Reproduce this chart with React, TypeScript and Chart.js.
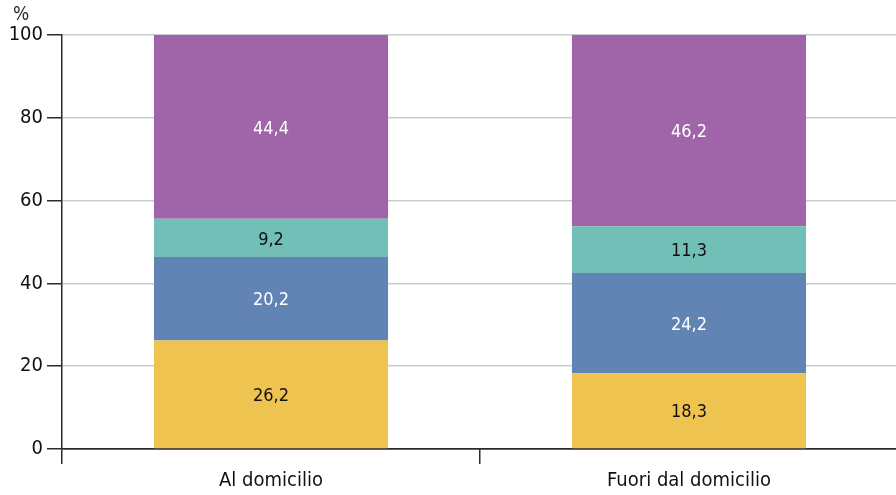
import React, { useEffect, useRef } from "react";
import { Chart, registerables } from "chart.js";

Chart.register(...registerables);

const categories = ["Al domicilio", "Fuori dal domicilio"];
const seriesYellow = [26.2, 18.3];
const seriesBlue = [20.2, 24.2];
const seriesTeal = [9.2, 11.3];
const seriesPurple = [44.4, 46.2];
const yTicks = [0, 20, 40, 60, 80, 100];

const FONT = "'Liberation Sans Narrow', 'DejaVu Sans Condensed', 'Roboto Condensed', 'Arial Narrow', sans-serif";
const DARK = "#2b2b2b";
const GRID = "#c9cbcf";

const labelPlugin = {
  id: "segLabels",
  afterDatasetsDraw(chart: any) {
    const ctx = chart.ctx;
    ctx.save();
    ctx.font = `18px ${FONT}`;
    ctx.textAlign = "center";
    ctx.textBaseline = "middle";
    chart.data.datasets.forEach((ds: any, di: number) => {
      const meta = chart.getDatasetMeta(di);
      meta.data.forEach((bar: any, i: number) => {
        const v = ds.data[i];
        const yc = (bar.y + bar.base) / 2 + 2;
        ctx.fillStyle = ds.labelColor;
        ctx.fillText(v.toFixed(1).replace(".", ","), bar.x, yc);
      });
    });
    const ca = chart.chartArea;
    ctx.fillStyle = DARK;
    ctx.font = `19px ${FONT}`;
    ctx.fillText("%", ca.left - 41, ca.top - 20);
    ctx.restore();
  },
};

export default function App() {
  const ref = useRef<HTMLCanvasElement>(null);
  useEffect(() => {
    document.body.style.margin = "0";
    const chart = new Chart(ref.current!, {
      type: "bar",
      data: {
        labels: categories,
        datasets: [
          { data: seriesYellow, backgroundColor: "#EFC34F", labelColor: "#111" } as any,
          { data: seriesBlue, backgroundColor: "#6184B4", labelColor: "#ffffff" } as any,
          { data: seriesTeal, backgroundColor: "#72BFB8", labelColor: "#111" } as any,
          { data: seriesPurple, backgroundColor: "#A064A8", labelColor: "#ffffff" } as any,
        ],
      },
      options: {
        responsive: false,
        animation: false,
        devicePixelRatio: 1,
        layout: { padding: { top: 35, left: 0, right: 2, bottom: 0 } },
        datasets: { bar: { barPercentage: 0.56, categoryPercentage: 1 } },
        plugins: { legend: { display: false }, tooltip: { enabled: false } },
        scales: {
          x: {
            stacked: true,
            afterFit: (s: any) => { s.height = 46; },
            grid: {
              offset: true,
              drawOnChartArea: false,
              drawTicks: true,
              tickLength: 15,
              color: DARK,
              lineWidth: 1.5,
            },
            border: { display: true, color: DARK, width: 1.5 },
            ticks: { color: "#111", font: { family: FONT, size: 20 }, padding: 5 },
          },
          y: {
            stacked: true,
            min: 0,
            max: 100,
            afterFit: (s: any) => { s.width = 62; },
            afterBuildTicks: (s: any) => { s.ticks = yTicks.map((v) => ({ value: v })); },
            grid: {
              color: (c: any) => (c.tick && c.tick.value === 0 ? DARK : GRID),
              lineWidth: 1.5,
              tickColor: DARK,
              tickLength: 15,
              drawTicks: true,
            },
            border: { display: true, color: DARK, width: 1.5 },
            ticks: { color: "#111", font: { family: FONT, size: 20 }, padding: 4 },
          },
        },
      },
      plugins: [labelPlugin],
    } as any);
    return () => chart.destroy();
  }, []);
  return (
    <div style={{ position: "fixed", left: 0, top: 0, width: 896, height: 495, overflow: "hidden", background: "#fff" }}>
      <canvas ref={ref} width={900} height={495} />
    </div>
  );
}
